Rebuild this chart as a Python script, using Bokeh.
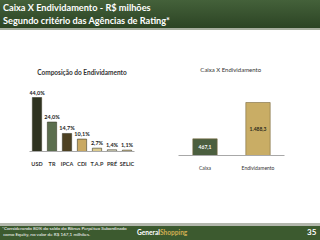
from bokeh.plotting import figure
from bokeh.models import ColumnDataSource, Div
from bokeh.layouts import column, row
from bokeh.embed import file_html
from bokeh.resources import INLINE
from bokeh.core.properties import value

# ---- data ----
comp_cats = ["USD", "TR", "IPCA", "CDI", "T.A.P", "PRÉ", "SELIC"]
comp_vals = [44.0, 24.0, 14.7, 10.1, 2.7, 1.4, 1.1]
comp_labels = ["44,0%", "24,0%", "14,7%", "10,1%", "2,7%", "1,4%", "1,1%"]
comp_colors = ["#2f3320", "#5b6e4e", "#4d4122", "#c9a963", "#dccb8f", "#d3d0b8", "#c7b377"]

cx_cats = ["Caixa", "Endividamento"]
cx_vals = [467.1, 1488.3]
cx_labels = ["467,1", "1.488,3"]
cx_colors = ["#4b5f3f", "#c9ad65"]
cx_label_colors = ["#ffffff", "#2a2a1a"]

FONT = "Lato"

# ---- left chart ----
src1 = ColumnDataSource(dict(cat=comp_cats, val=comp_vals, lab=comp_labels, col=comp_colors))
p1 = figure(frame_width=105, frame_height=66, x_range=comp_cats, y_range=(0, 53.8),
            output_backend="svg", toolbar_location=None,
            min_border_left=29, min_border_right=36, min_border_top=55, min_border_bottom=72)
p1.vbar(x="cat", top="val", width=0.62, source=src1, fill_color="col",
        line_color="#3a3a2a", line_width=0.6)
p1.text(x="cat", y="val", text="lab", source=src1, y_offset=-2,
        text_align="center", text_baseline="bottom", text_font=value(FONT),
        text_font_size="5.5px", text_font_style="bold", text_color="#222222")
p1.title.text = "Composição do Endividamento"
p1.title.align = "center"
p1.title.text_font = FONT
p1.title.text_font_size = "6.5px"
p1.title.text_font_style = "bold"
p1.title.text_color = "#333333"
p1.title.standoff = 19

# ---- right chart ----
src2 = ColumnDataSource(dict(cat=cx_cats, val=cx_vals, lab=cx_labels, col=cx_colors,
                             lc=cx_label_colors, mid=[v / 2 for v in cx_vals]))
p2 = figure(frame_width=106, frame_height=70, x_range=cx_cats, y_range=(0, 1966),
            output_backend="svg", toolbar_location=None,
            min_border_left=8, min_border_right=36, min_border_top=55, min_border_bottom=68)
p2.vbar(x="cat", top="val", width=0.46, source=src2, fill_color="col",
        line_color="#7a6a40", line_width=0.6)
p2.text(x="cat", y="mid", text="lab", source=src2, text_color="lc",
        text_align="center", text_baseline="middle", text_font=value(FONT),
        text_font_size="5px", text_font_style="bold")
p2.title.text = "Caixa  X Endividamento"
p2.title.align = "center"
p2.title.text_font = FONT
p2.title.text_font_size = "6px"
p2.title.text_font_style = "normal"
p2.title.text_color = "#333333"
p2.title.standoff = 25

for p in (p1, p2):
    p.yaxis.visible = False
    p.grid.visible = False
    p.outline_line_color = None
    p.xaxis.axis_line_color = "#a8a8a8"
    p.xaxis.major_tick_line_color = None
    p.xaxis.minor_tick_line_color = None
    p.xaxis.major_label_standoff = 3
    p.xaxis.major_label_text_font = FONT
    p.xaxis.major_label_text_font_style = "bold"
    p.xaxis.major_label_text_color = "#333333"
p1.xaxis.major_label_text_font_size = "5.5px"
p2.xaxis.major_label_text_font_size = "5px"
p2.xaxis.major_label_text_font_style = "normal"

header = Div(width=320, height=30, margin=0, text=(
    '<div style="position:relative;width:320px;height:30px;'
    'background:linear-gradient(#44613a,#2c4424);border-bottom:2px solid #a7ae9f;'
    'box-sizing:border-box;font-family:Lato,sans-serif;font-weight:bold;color:#ffffff;'
    'font-size:9.2px;line-height:13px;padding:1px 0 0 3px;">'
    'Caixa X Endividamento - R$ milhões<br>Segundo critério das Agências de Rating*</div>'))

footer = Div(width=320, height=17, margin=0, text=(
    '<div style="position:relative;width:320px;height:17px;box-sizing:border-box;'
    'background:#3c5a2f;border-top:3px solid #b4b8ae;font-family:Lato,sans-serif;color:#ffffff;">'
    '<div style="position:absolute;left:2px;top:0px;font-size:4.6px;line-height:5.8px;white-space:nowrap;">'
    '*Considerando 80% do saldo do Bônus Perpétuo Subordinado<br>'
    '&nbsp;como Equity, no valor de R$ 167,1 milhões.</div>'
    '<div style="position:absolute;left:137px;top:2px;font-size:6.6px;font-weight:bold;white-space:nowrap;">'
    'General<span style="color:#d0ae52;">Shopping</span></div>'
    '<div style="position:absolute;left:307px;top:1px;font-size:8px;font-weight:bold;">35</div>'
    '</div>'))

layout = column(header, row(p1, p2, spacing=0), footer, spacing=0)
open("out.html", "w").write(file_html(layout, INLINE))
